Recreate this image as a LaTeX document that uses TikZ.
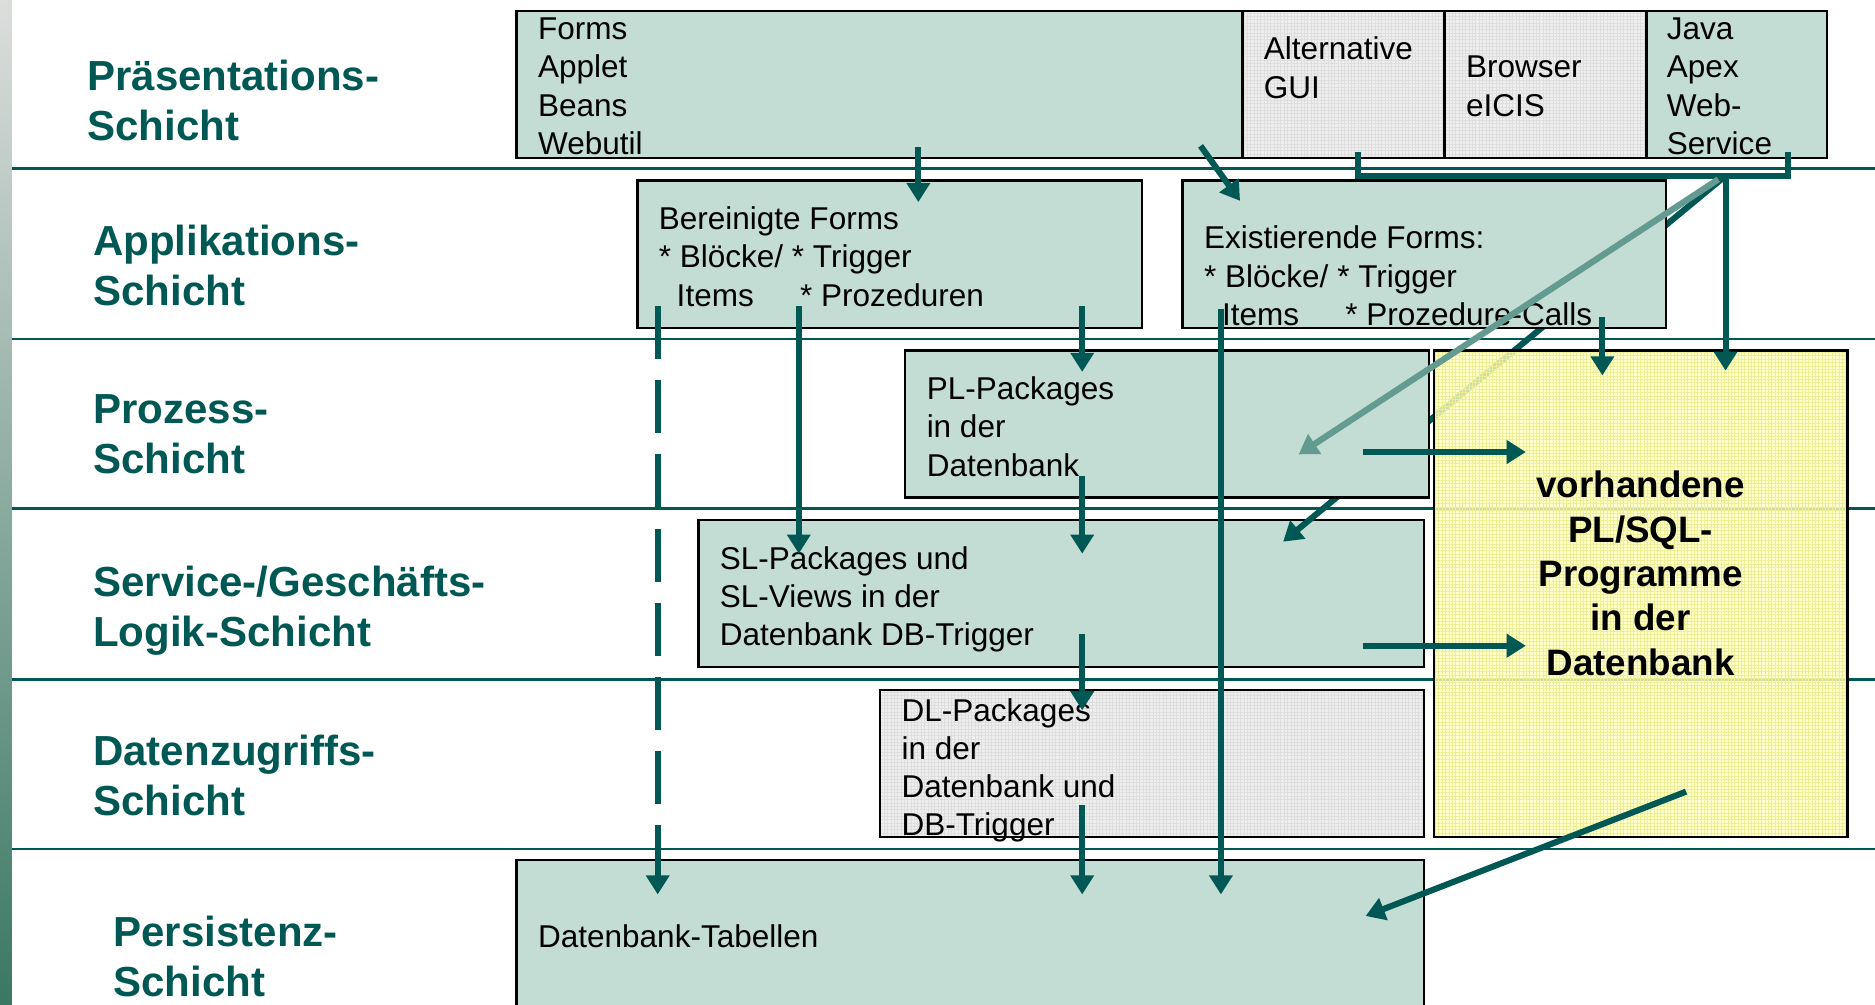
\documentclass[tikz,border=0pt]{standalone}
\usepackage{fontspec}
\setmainfont{Liberation Sans}
\usetikzlibrary{arrows.meta,fit,patterns.meta}

\definecolor{layerteal}{RGB}{0,88,84}
\definecolor{boxgreen}{RGB}{195,221,212}
\definecolor{cellgray}{RGB}{238,238,238}
\definecolor{gridgray}{RGB}{222,222,222}
\definecolor{dbyellow}{RGB}{255,255,190}
\definecolor{gridyellow}{RGB}{238,238,150}
\definecolor{hatchteal}{RGB}{100,155,145}
\definecolor{bartop}{RGB}{220,222,220}
\definecolor{barmid}{RGB}{168,188,180}
\definecolor{barbot}{RGB}{58,120,100}

\begin{document}
\begin{tikzpicture}[x=0.02cm, y=-0.02cm,
  every node/.style={inner sep=0pt, outer sep=0pt},
  box/.style={draw=black, line width=1.1pt, fill=boxgreen},
  gridbox/.style={draw=black, line width=1.1pt,
    preaction={fill=cellgray},
    pattern={Hatch[angle=0,distance=1.6pt,line width=0.25pt]},
    pattern color=gridgray},
  dbbox/.style={draw=black, line width=1.1pt,
    preaction={fill=dbyellow, fill opacity=0.8},
    pattern={Hatch[angle=0,distance=1.6pt,line width=0.25pt]},
    pattern color=gridyellow},
  body/.style={anchor=north west, align=left,
    font=\fontsize{15pt}{18.2pt}\selectfont},
  layer/.style={anchor=north west, align=left, text=layerteal,
    font=\fontsize{20pt}{23.8pt}\selectfont\bfseries},
  sep/.style={draw=layerteal, line width=1.3pt},
  flow/.style={draw=layerteal, line width=2.9pt,
    -{Triangle[length=0.32cm,width=0.38cm]}},
  link/.style={draw=layerteal, line width=2.9pt},
  optional/.style={flow, dash pattern=on 0.89cm off 0.35cm},
  hatched/.style={draw=hatchteal, line width=3pt,
    -{Triangle[length=0.32cm,width=0.38cm]}},
]
\useasboundingbox (0,0) rectangle (1568,840);
\clip (0,0) rectangle (1568,840);

% side bar
\shade[top color=bartop, middle color=barmid, bottom color=barbot] (0,0) rectangle (10,840);

% layer separators
\foreach \y in {141,283.5,425,568,710}
  \draw[sep] (10,\y) -- (1568,\y);

% boxes (lower stack)
\node[box, fit={(432,9) (1039,132)}] (forms) {};
\node[gridbox, fit={(1039,9) (1208,132)}] (altgui) {};
\node[gridbox, fit={(1208,9) (1377,132)}] (browser) {};
\node[box, fit={(1377,9) (1528,132)}] (java) {};
\node[box, fit={(533,151) (955,274)}] (clean) {};
\node[box, fit={(584,435) (1191,558)}] (sl) {};
\node[gridbox, fit={(736,577) (1191,700)}] (dl) {};
\node[box, fit={(432,719) (1191,860)}] (tables) {};

% web clients -> SL packages (runs behind the boxes above it)
\coordinate (jn) at (1443,147);
\coordinate (slFromWeb) at (1073,453);
\draw[flow] (jn) -- (slFromWeb);

\node[box, fit={(989,151) (1393,274)}] (existing) {};
\node[box, fit={(757,293) (1195,416)}] (pl) {};
\node[dbbox, fit={(1199,293) (1545,700)}] (plsql) {};

% layer labels
\node[layer] (lPres) at (73,50) {Präsentations-\\Schicht};
\node[layer] (lApp) at (78,188) {Applikations-\\Schicht};
\node[layer] (lProc) at (78,330) {Prozess-\\Schicht};
\node[layer] (lSvc) at (78,473) {Service-/Geschäfts-\\Logik-Schicht};
\node[layer] (lData) at (78,615) {Datenzugriffs-\\Schicht};
\node[layer] (lPers) at (95,766) {Persistenz-\\Schicht};

% box texts
\node[body] (formsTxt) at (450,15) {Forms\\Applet\\Beans\\Webutil};
\node[body] (altTxt) at (1057,31) {Alternative\\GUI};
\node[body] (browserTxt) at (1226,47) {Browser\\eICIS};
\node[body] (javaTxt) at (1394,15) {Java\\Apex\\Web-\\Service};
\node[body] (cleanTxt) at (551,173) {Bereinigte Forms\\* Blöcke/ * Trigger\\\hspace*{8.5pt}Items\hspace*{22pt}* Prozeduren};
\node[body] (existingTxt) at (1007,189) {Existierende Forms:\\* Blöcke/ * Trigger\\\hspace*{8.5pt}Items\hspace*{22pt}* Prozedure-Calls};
\node[body] (plTxt) at (775,315) {PL-Packages\\in der\\Datenbank};
\node[body] (slTxt) at (602,457) {SL-Packages und\\SL-Views in der\\Datenbank DB-Trigger};
\node[body] (dlTxt) at (754,584) {DL-Packages\\in der\\Datenbank und\\DB-Trigger};
\node[body] (tablesTxt) at (450,773) {Datenbank-Tabellen};
\node[anchor=north, align=center,
  font=\fontsize{17.5pt}{21.1pt}\selectfont\bfseries] (plsqlTxt) at (1372,394)
  {vorhandene\\PL/SQL-\\Programme\\in der\\Datenbank};

% connector end points
\coordinate (formsOut) at (768,123);
\coordinate (cleanIn) at (768,169);
\coordinate (formsOut2) at (1004,122);
\coordinate (existingIn) at (1037,168);
\coordinate (altOut) at (1136,127);
\coordinate (javaOut) at (1495,127);
\coordinate (plsqlFromWeb) at (1443,310);
\coordinate (plFromWebA) at (1437,150);
\coordinate (plFromWeb) at (1086,380);
\coordinate (existingOut) at (1340,265);
\coordinate (plsqlFromExisting) at (1340,314);
\coordinate (cleanOutA) at (550,256);
\coordinate (tablesInA) at (550,748);
\coordinate (cleanOutB) at (668,256);
\coordinate (slInB) at (668,463);
\coordinate (cleanOutC) at (905,256);
\coordinate (plInC) at (905,311);
\coordinate (existingOutB) at (1021,258);
\coordinate (tablesInB) at (1021,748);
\coordinate (plOut) at (905,398);
\coordinate (slIn) at (905,463);
\coordinate (slOut) at (905,530);
\coordinate (dlIn) at (905,594);
\coordinate (dlOut) at (905,673);
\coordinate (tablesInC) at (905,748);
\coordinate (plOutR) at (1140,378);
\coordinate (plsqlFromPl) at (1276,378);
\coordinate (slOutR) at (1140,540);
\coordinate (plsqlFromSl) at (1276,540);
\coordinate (plsqlOut) at (1410,662);
\coordinate (tablesFromPlsql) at (1142,766);

% connectors
\draw[flow] (formsOut) -- (cleanIn);
\draw[flow] (formsOut2) -- (existingIn);
\draw[link] (altOut) |- (jn) -| (javaOut);
\draw[flow] (jn) -- (plsqlFromWeb);
\draw[flow] (existingOut) -- (plsqlFromExisting);
\draw[optional] (cleanOutA) -- (tablesInA);
\draw[flow] (cleanOutB) -- (slInB);
\draw[flow] (cleanOutC) -- (plInC);
\draw[flow] (existingOutB) -- (tablesInB);
\draw[flow] (plOut) -- (slIn);
\draw[flow] (slOut) -- (dlIn);
\draw[flow] (dlOut) -- (tablesInC);
\draw[flow] (plOutR) -- (plsqlFromPl);
\draw[flow] (slOutR) -- (plsqlFromSl);
\draw[flow] (plsqlOut) -- (tablesFromPlsql);
\draw[hatched] (plFromWebA) -- (plFromWeb);
\end{tikzpicture}
\end{document}
